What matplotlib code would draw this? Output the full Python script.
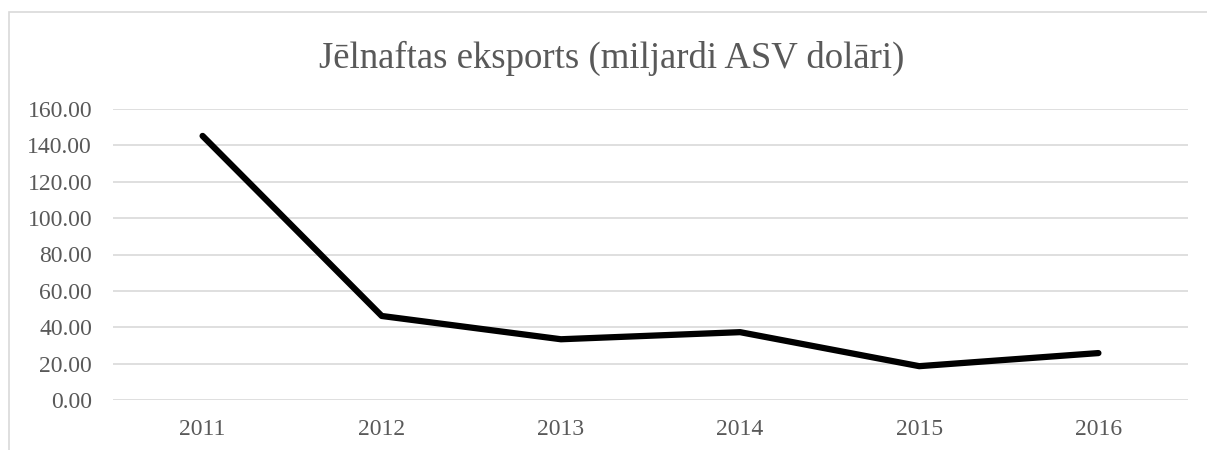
import matplotlib.pyplot as plt
from matplotlib.patches import Rectangle

years = ["2011", "2012", "2013", "2014", "2015", "2016"]
exports = [145.2, 46.2, 33.4, 37.3, 18.6, 25.8]
y_ticks = [0, 20, 40, 60, 80, 100, 120, 140, 160]

plt.rcParams['font.family'] = ['Liberation Serif', 'DejaVu Serif']

fig = plt.figure(figsize=(12.07, 4.5), dpi=100)
W, H = 1207, 450

# chart border (cropped on right and bottom)
fig.patches.append(Rectangle((9 / W, -0.1), 1.2, 1 - 12 / H + 0.1, transform=fig.transFigure,
                             fill=False, edgecolor='#d9d9d9', linewidth=1.2))

ax = fig.add_axes([113 / W, 1 - 400 / H, (1188 - 113) / W, (400 - 109) / H])
x = list(range(len(years)))
ax.plot(x, exports, color='black', linewidth=4.5, solid_capstyle='round', solid_joinstyle='round', zorder=3)

ax.set_xlim(-0.5, len(years) - 0.5)
ax.set_ylim(0, 160)
ax.set_yticks(y_ticks)
ax.set_yticklabels([f"{v:.2f}" for v in y_ticks])
ax.set_xticks(x)
ax.set_xticklabels(years)
ax.grid(axis='y', color='#d9d9d9', linewidth=1.2)
ax.set_axisbelow(True)
for s in ax.spines.values():
    s.set_visible(False)
ax.tick_params(length=0, labelsize=17, colors='#595959')
ax.tick_params(axis='y', pad=15)
ax.tick_params(axis='x', pad=14)

fig.text(612 / W, 1 - 58 / H, "Jēlnaftas eksports (miljardi ASV dolāri)", ha='center', va='center',
         fontsize=26.5, color='#595959')

fig.savefig("out.png", dpi=100)
